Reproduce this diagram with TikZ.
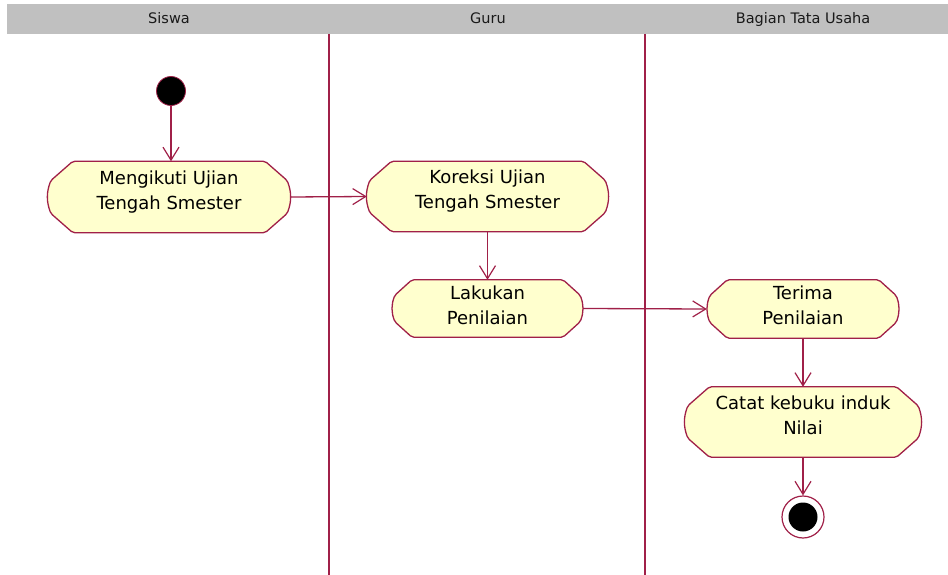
\documentclass[tikz,border=0pt]{standalone}
\usepackage{fontspec}
\setmainfont{DejaVu Sans}
\usetikzlibrary{arrows.meta,calc,backgrounds}

\definecolor{actline}{RGB}{160,32,72}
\definecolor{actfill}{RGB}{255,255,206}
\definecolor{lanehead}{RGB}{192,192,192}

\tikzset{
  actshape/.style={draw=actline, fill=actfill, line width=1.3pt, rounded corners=2pt},
  % width, height, depth of the last text line (sets the text's vertical position)
  actbox/.style n args={3}{minimum width=#1, minimum height=#2, inner sep=0pt,
    align=center, text depth=#3, font=\fontsize{18}{25}\selectfont},
  flow/.style={draw=actline, line width=1.3pt,
    -{Straight Barb[length=13pt,width=16pt,line width=1.2pt]}},
  lane/.style={draw=actline, line width=1.2pt},
  lanetitle/.style={anchor=base, font=\fontsize{14.5}{16}\selectfont, text=black!90},
  startdot/.style={circle, fill=black, draw=actline, line width=0.8pt,
    minimum size=29pt, inner sep=0pt},
  enddot/.style={circle, fill=white, draw=actline, line width=1.2pt,
    minimum size=42pt, inner sep=0pt,
    path picture={\fill[black] (path picture bounding box.center) circle (14.5pt);}},
}

% activity outline: flat top and bottom, bevelled corners, slightly bulging ends
\newcommand\actoutline[1]{%
  \filldraw[actshape] let \p1=(#1.north west), \p2=(#1.south east),
    \n1={0.35*(\y1-\y2)}, \n2={0.27*(\y1-\y2)} in
    (\x1+\n1*1pt,\y1) -- (\x2-\n1*1pt,\y1) -- (\x2-3pt,\y1-\n2*1pt)
    to[bend left=20] (\x2-3pt,\y2+\n2*1pt) -- (\x2-\n1*1pt,\y2) -- (\x1+\n1*1pt,\y2)
    -- (\x1+3pt,\y2+\n2*1pt) to[bend left=20] (\x1+3pt,\y1-\n2*1pt) -- cycle;}

\begin{document}
\begin{tikzpicture}[x=1pt, y=-1pt]
  \useasboundingbox (0,0) rectangle (948,575);

  % swimlane titles
  \node[lanetitle] (tsiswa) at (169,24) {Siswa};
  \node[lanetitle] (tguru) at (488,24) {Guru};
  \node[lanetitle] (ttu) at (803,24) {Bagian Tata Usaha};

  % activities
  \node[actbox={242pt}{71pt}{14pt}] (a1) at (169,197) {Mengikuti Ujian\\Tengah Smester};
  \node[actbox={241pt}{70pt}{14pt}] (a2) at (487.5,196.5) {Koreksi Ujian\\Tengah Smester};
  \node[actbox={191pt}{57pt}{6pt}] (a3) at (487.5,308.5) {Lakukan\\Penilaian};
  \node[actbox={192pt}{58pt}{7pt}] (a4) at (803,309) {Terima\\Penilaian};
  \node[actbox={236pt}{70pt}{14pt}] (a5) at (803,422) {Catat kebuku induk\\Nilai};

  % initial and final states
  \node[startdot] (start) at (171,91) {};
  \node[enddot] (fin) at (803,517) {};

  \begin{scope}[on background layer]
    \fill[lanehead] (7,4) rectangle (948,34);
    \coordinate (l1top) at (329,34);
    \coordinate (l1bot) at (329,575);
    \coordinate (l2top) at (645,34);
    \coordinate (l2bot) at (645,575);
    \draw[lane] (l1top) -- (l1bot);
    \draw[lane] (l2top) -- (l2bot);
    \actoutline{a1}
    \actoutline{a2}
    \actoutline{a3}
    \actoutline{a4}
    \actoutline{a5}
  \end{scope}

  % transitions
  \draw[flow] (start) -- (start |- a1.north);
  \draw[flow] (a1.east) -- (a2.west);
  \draw[flow] (a2.south) -- (a3.north);
  \draw[flow] (a3.east) -- (a4.west);
  \draw[flow] (a4.south) -- (a5.north);
  \draw[flow] (a5.south) -- (fin.north);
\end{tikzpicture}
\end{document}
